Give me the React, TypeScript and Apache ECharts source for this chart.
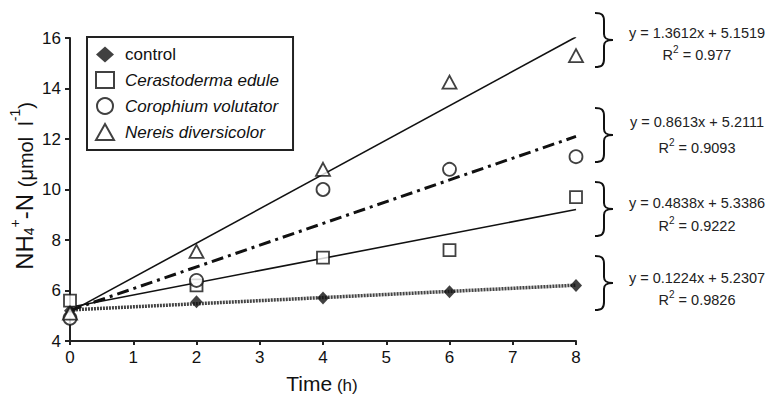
import React, { useEffect, useRef } from 'react';
import * as echarts from 'echarts';

const timeH = [0, 2, 4, 6, 8];
const control = [5.2, 5.55, 5.7, 5.95, 6.2];
const cerastoderma = [5.6, 6.2, 7.3, 7.6, 9.7];
const corophium = [4.9, 6.4, 10.0, 10.8, 11.3];
const nereis = [5.1, 7.55, 10.8, 14.25, 15.3];

const seriesNames = ['control', 'Cerastoderma edule', 'Corophium volutator', 'Nereis diversicolor'];
const slopes = [0.1224, 0.4838, 0.8613, 1.3612];
const intercepts = [5.2307, 5.3386, 5.2111, 5.1519];
const rSquared = ['0.9826', '0.9222', '0.9093', '0.977'];

const FONT = '"Liberation Sans", Arial, Helvetica, sans-serif';

let braceRegistered = false;
function registerBrace() {
  if (braceRegistered) return;
  const d = 'M0,0 C7,0 9,2 9,8 L9,21 C9,25 11,27 18,27 C11,27 9,29 9,33 L9,46 C9,52 7,54 0,54';
  echarts.graphic.registerShape('brace', echarts.graphic.extendPath(d, {}));
  braceRegistered = true;
}

export default function App() {
  const ref = useRef<HTMLDivElement>(null);
  useEffect(() => {
    if (!ref.current) return;
    document.body.style.margin = '0';
    registerBrace();
    const chart = echarts.init(ref.current, null, { renderer: 'svg' });

    const pts = (arr: number[]) => timeH.map((t, i) => [t, arr[i]]);
    const fit = (k: number) => [
      [0, intercepts[k]],
      [8, intercepts[k] + slopes[k] * 8],
    ];

    // brace layout: top to bottom = Nereis, Corophium, Cerastoderma, control
    const braceOrder = [3, 2, 1, 0];
    const braceTops = [13, 108, 182, 256];
    const eqY = [33, 122, 203, 278];
    const r2Y = [53, 146, 224, 298];

    const graphics: any[] = [];
    braceOrder.forEach((k, i) => {
      graphics.push({
        type: 'brace',
        x: 595,
        y: braceTops[i],
        style: { stroke: '#111', fill: 'none', lineWidth: 2 },
      });
      graphics.push({
        type: 'text',
        x: 697,
        y: eqY[i],
        style: {
          text: `y = ${slopes[k]}x + ${intercepts[k]}`,
          fontSize: 14.5,
          fontFamily: FONT,
          fill: '#222',
          align: 'center',
          verticalAlign: 'middle',
        },
      });
      graphics.push({
        type: 'text',
        x: 697,
        y: r2Y[i],
        style: {
          text: `{b|R}{s|2}{b| = ${rSquared[k]}}`,
          align: 'center',
          verticalAlign: 'middle',
          rich: {
            b: { fontSize: 14.5, fontFamily: FONT, fill: '#222', lineHeight: 18, verticalAlign: 'bottom' },
            s: { fontSize: 10, fontFamily: FONT, fill: '#222', lineHeight: 10, verticalAlign: 'top' },
          },
        },
      });
    });

    // y-axis title
    graphics.push({
      type: 'text',
      x: 22,
      y: 186,
      rotation: Math.PI / 2,
      style: {
        text: '{b|NH}{sub|4}{sup|+}{b|-N }{m|(μmol  l}{sup|-1}{m|)}',
        align: 'center',
        verticalAlign: 'middle',
        rich: {
          b: { fontSize: 24, fontFamily: FONT, fill: '#111', lineHeight: 28, verticalAlign: 'bottom' },
          m: { fontSize: 20, fontFamily: FONT, fill: '#111', lineHeight: 28, verticalAlign: 'bottom' },
          sub: { fontSize: 14, fontFamily: FONT, fill: '#111', lineHeight: 14, verticalAlign: 'bottom' },
          sup: { fontSize: 14, fontFamily: FONT, fill: '#111', lineHeight: 14, verticalAlign: 'top' },
        },
      },
    });
    // x-axis title
    graphics.push({
      type: 'text',
      x: 322,
      y: 382,
      style: {
        text: '{b|Time}{m| (h)}',
        align: 'center',
        verticalAlign: 'middle',
        rich: {
          b: { fontSize: 21, fontFamily: FONT, fill: '#111', lineHeight: 24, verticalAlign: 'bottom' },
          m: { fontSize: 17, fontFamily: FONT, fill: '#111', lineHeight: 24, verticalAlign: 'bottom' },
        },
      },
    });

    const emptyStyle = { color: '#fff', borderColor: '#111', borderWidth: 1.8 };

    chart.setOption({
      animation: false,
      backgroundColor: '#fff',
      grid: { left: 70, right: 197, top: 38, bottom: 54 },
      legend: {
        data: seriesNames,
        orient: 'vertical',
        left: 87,
        top: 37,
        padding: [9, 14, 9, 8],
        itemGap: 8,
        itemWidth: 18,
        itemHeight: 16,
        borderColor: '#222',
        borderWidth: 2,
        formatter: (name: string) => (name === 'control' ? name : `{i|${name}}`),
        textStyle: {
          fontSize: 17,
          fontFamily: FONT,
          color: '#111',
          padding: [0, 0, 0, 6],
          rich: { i: { fontSize: 17, fontFamily: FONT, fontStyle: 'italic', color: '#111' } },
        },
      },
      xAxis: {
        type: 'value',
        min: 0,
        max: 8,
        interval: 1,
        splitLine: { show: false },
        axisLine: { onZero: false, lineStyle: { color: '#222', width: 2 } },
        axisTick: { inside: false, length: 4, lineStyle: { color: '#222', width: 2 } },
        axisLabel: { fontSize: 17, fontFamily: FONT, color: '#111', margin: 8 },
      },
      yAxis: {
        type: 'value',
        min: 4,
        max: 16,
        interval: 2,
        splitLine: { show: false },
        axisLine: { show: true, lineStyle: { color: '#222', width: 2 } },
        axisTick: { show: true, inside: false, length: 5, lineStyle: { color: '#222', width: 2 } },
        axisLabel: { fontSize: 17, fontFamily: FONT, color: '#111', margin: 9 },
      },
      series: [
        {
          name: 'control fit',
          type: 'line',
          data: fit(0),
          showSymbol: false,
          silent: true,
          z: 2,
          lineStyle: { color: '#444', width: 3.5, type: [2, 1] },
        },
        {
          name: 'Cerastoderma fit',
          type: 'line',
          data: fit(1),
          showSymbol: false,
          silent: true,
          z: 2,
          lineStyle: { color: '#111', width: 1.6, type: 'solid' },
        },
        {
          name: 'Corophium fit',
          type: 'line',
          data: fit(2),
          showSymbol: false,
          silent: true,
          z: 2,
          lineStyle: { color: '#111', width: 3, type: [12, 5, 3, 5] },
        },
        {
          name: 'Nereis fit',
          type: 'line',
          data: fit(3),
          showSymbol: false,
          silent: true,
          z: 2,
          lineStyle: { color: '#111', width: 1.6, type: 'solid' },
        },
        {
          name: seriesNames[0],
          type: 'scatter',
          data: pts(control),
          symbol: 'diamond',
          symbolSize: [12, 13],
          itemStyle: { color: '#111' },
          z: 3,
        },
        {
          name: seriesNames[1],
          type: 'scatter',
          data: pts(cerastoderma),
          symbol: 'rect',
          symbolSize: 12,
          itemStyle: emptyStyle,
          z: 3,
        },
        {
          name: seriesNames[2],
          type: 'scatter',
          data: pts(corophium),
          symbol: 'circle',
          symbolSize: 13,
          itemStyle: emptyStyle,
          z: 3,
        },
        {
          name: seriesNames[3],
          type: 'scatter',
          data: pts(nereis),
          symbol: 'triangle',
          symbolSize: [14, 13],
          itemStyle: emptyStyle,
          z: 3,
        },
      ],
      graphic: graphics,
    });
    return () => chart.dispose();
  }, []);
  return <div ref={ref} style={{ width: 773, height: 395 }} />;
}
